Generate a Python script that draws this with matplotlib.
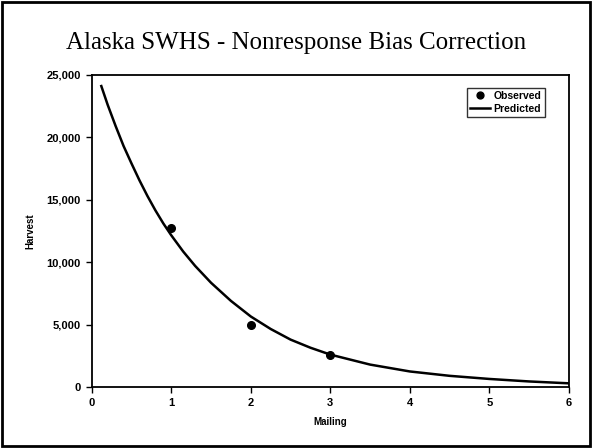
import matplotlib
matplotlib.use("Agg")
import matplotlib.pyplot as plt
from matplotlib.patches import Rectangle
from matplotlib.ticker import FuncFormatter

# observed harvest by mailing
mailing_obs = [1, 2, 3]
harvest_obs = [12700, 4950, 2550]

# predicted curve
mailing_pred = [0.12, 0.2, 0.3, 0.4, 0.5, 0.6, 0.7, 0.8, 0.9, 1.0, 1.15, 1.3, 1.5,
                1.75, 2.0, 2.25, 2.5, 2.75, 3.0, 3.5, 4.0, 4.5, 5.0, 5.5, 6.0]
harvest_pred = [24100, 22600, 20900, 19300, 17900, 16550, 15300, 14150, 13100, 12150,
                10850, 9700, 8350, 6900, 5650, 4650, 3800, 3150, 2600, 1800, 1250,
                900, 650, 450, 300]

x_ticks = [0, 1, 2, 3, 4, 5, 6]
y_ticks = [0, 5000, 10000, 15000, 20000, 25000]

plt.rcParams["font.family"] = ["Liberation Sans", "DejaVu Sans"]

fig = plt.figure(figsize=(5.92, 4.48), dpi=100)
ax = fig.add_axes([0.155, 0.136, 0.806, 0.697])

# outer frame round the whole chart
fig.patches.append(Rectangle((0.004, 0.004), 0.992, 0.992, transform=fig.transFigure,
                             fill=False, edgecolor="black", linewidth=2))

ax.plot(mailing_obs, harvest_obs, "o", color="black", markersize=5.5, label="Observed", zorder=3)
ax.plot(mailing_pred, harvest_pred, "-", color="black", linewidth=1.8, label="Predicted")

ax.set_xlim(0, 6)
ax.set_ylim(0, 25000)
ax.set_xticks(x_ticks)
ax.set_yticks(y_ticks)
ax.yaxis.set_major_formatter(FuncFormatter(lambda v, p: f"{int(v):,}"))
ax.tick_params(direction="out", length=4, width=1, labelsize=8, pad=4)
for lab in ax.get_xticklabels() + ax.get_yticklabels():
    lab.set_fontweight("bold")
for s in ax.spines.values():
    s.set_linewidth(1.3)

ax.set_xlabel("Mailing", fontsize=7, fontweight="bold", labelpad=6)
ax.set_ylabel("Harvest", fontsize=7, fontweight="bold", labelpad=8)

fig.text(0.5, 0.905, "Alaska SWHS - Nonresponse Bias Correction",
         ha="center", va="center", fontsize=18, family="Liberation Serif")

leg = ax.legend(loc="upper right", bbox_to_anchor=(0.96, 0.975), fontsize=7.5,
                frameon=True, fancybox=False, edgecolor="black", handlelength=2.0,
                handletextpad=0.3, borderpad=0.3, labelspacing=0.25, markerscale=0.9)
leg.get_frame().set_linewidth(1)
for t in leg.get_texts():
    t.set_fontweight("bold")

fig.savefig("out.png", dpi=100)
